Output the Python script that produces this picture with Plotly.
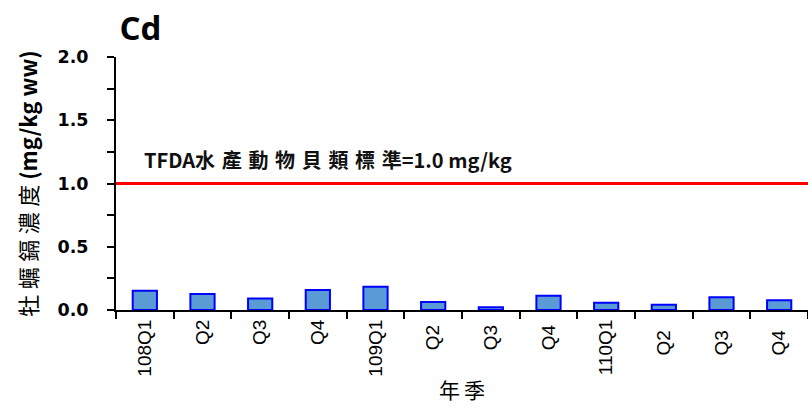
import plotly.graph_objects as go

# Quarterly cadmium concentration in oysters (mg/kg wet weight)
quarters = ["108Q1", "Q2", "Q3", "Q4", "109Q1", "Q2 ", "Q3 ", "Q4 ",
            "110Q1", "Q2  ", "Q3  ", "Q4  "]
cd_values = [0.153, 0.127, 0.090, 0.158, 0.184, 0.063, 0.021, 0.113,
             0.058, 0.042, 0.100, 0.077]
tfda_limit = 1.0
y_ticks = [0, 0.5, 1.0, 1.5, 2.0]
y_tick_text = ["0.0", "0.5", "1.0", "1.5", "2.0"]

CJK = "Noto Sans CJK TC"


def spaced(s, gap="\u2009"):
    # widen CJK glyph spacing
    return gap.join(s)


fig = go.Figure()

fig.add_trace(go.Bar(
    x=quarters,
    y=cd_values,
    width=0.42,
    marker=dict(color="#5B9BD5", line=dict(color="#0000FF", width=2)),
    showlegend=False,
))

# TFDA regulatory limit
fig.add_shape(type="line", xref="paper", yref="y",
              x0=0, x1=1, y0=tfda_limit, y1=tfda_limit,
              line=dict(color="#FF0000", width=3), layer="above")

fig.add_annotation(
    xref="paper", yref="y", x=0.037, y=tfda_limit + 0.06,
    xanchor="left", yanchor="bottom", showarrow=False,
    text=("<b>TFDA" + spaced("水產動物貝類標準", "\u2004") + "=1.0 mg/kg</b>"),
    font=dict(family=CJK, size=20, color="#111"),
)

fig.update_layout(
    width=808, height=411,
    margin=dict(l=116, r=0, t=57, b=101),
    paper_bgcolor="white", plot_bgcolor="white",
    title=dict(text="<b>Cd</b>", x=0.148, xanchor="left", y=0.93, yanchor="middle",
               font=dict(family="Open Sans, DejaVu Sans", size=33, color="#000")),
)

fig.update_xaxes(
    type="category",
    tickson="boundaries",
    ticks="outside", ticklen=7, tickwidth=2, tickcolor="#000",
    showline=True, linecolor="#000", linewidth=2,
    showgrid=False,
    tickangle=-90,
    tickfont=dict(family="Liberation Sans, Arial", size=19, color="#000"),
    title=dict(text=spaced("年季"), standoff=8,
               font=dict(family=CJK, size=21, color="#000")),
)

fig.update_yaxes(
    range=[0, 2.0],
    tickvals=y_ticks, ticktext=y_tick_text,
    ticks="outside", ticklen=7, tickwidth=2, tickcolor="#000",
    minor=dict(dtick=0.25, ticks="outside", ticklen=7, tickwidth=2, tickcolor="#000"),
    showline=True, linecolor="#000", linewidth=2,
    showgrid=False, zeroline=False,
    ticklabelstandoff=15,
    tickfont=dict(family="DejaVu Sans", size=17.5, color="#000", weight="bold"),
    title=dict(text=spaced("牡蠣鎘濃度", "\u2005") + " <b>(mg/kg ww)</b>", standoff=14,
               font=dict(family=CJK, size=22, color="#000")),
)

fig.write_html("out.html")
